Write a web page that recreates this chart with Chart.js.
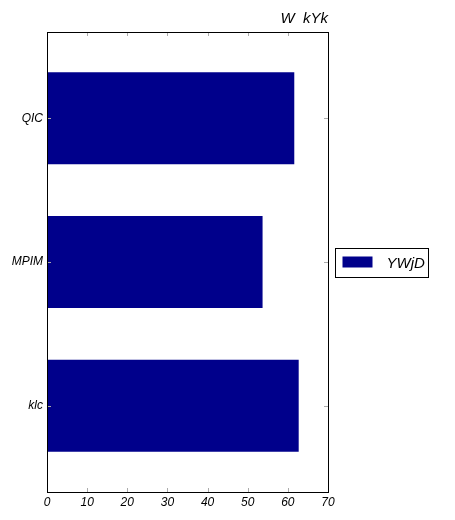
<!DOCTYPE html>
<html>
<head>
<meta charset="utf-8">
<script src="https://cdn.jsdelivr.net/npm/chart.js@4/dist/chart.umd.min.js"></script>
<style>
html,body{margin:0;padding:0;background:#fff;}
#wrap{width:455px;height:520px;position:relative;}
</style>
</head>
<body>
<div id="wrap"><canvas id="c" width="455" height="520"></canvas></div>
<script>
const categories = ['klc', 'MPIM', 'QIC'];
const values = [62.7, 53.7, 61.6];
const seriesName = 'YWjD';
const titleText = 'W  kYk';
const xTicks = [0, 10, 20, 30, 40, 50, 60, 70];

const FONT = '"Liberation Sans", Arial, sans-serif';

const decor = {
  id: 'decor',
  afterDraw(chart) {
    const ctx = chart.ctx;
    const ca = chart.chartArea;
    const xs = chart.scales.x, ys = chart.scales.y;
    ctx.save();
    ctx.strokeStyle = '#aaa';
    ctx.lineWidth = 1;
    const L = 4;
    xTicks.forEach(v => {
      const px = Math.round(xs.getPixelForValue(v)) + 0.5;
      ctx.beginPath();
      ctx.moveTo(px, ca.bottom); ctx.lineTo(px, ca.bottom - L);
      ctx.moveTo(px, ca.top); ctx.lineTo(px, ca.top + L);
      ctx.stroke();
    });
    categories.forEach((c, i) => {
      const py = Math.round(ys.getPixelForValue(i)) + 0.5;
      ctx.beginPath();
      ctx.moveTo(ca.left, py); ctx.lineTo(ca.left + L, py);
      ctx.moveTo(ca.right, py); ctx.lineTo(ca.right - L, py);
      ctx.stroke();
    });
    ctx.strokeStyle = '#000';
    ctx.strokeRect(Math.round(ca.left) + 0.5, Math.round(ca.top) + 0.5,
                   Math.round(ca.right - ca.left), Math.round(ca.bottom - ca.top));
    ctx.fillStyle = '#000';
    ctx.font = 'italic 15px ' + FONT;
    ctx.textAlign = 'right';
    ctx.textBaseline = 'alphabetic';
    ctx.fillText(titleText, ca.right, 23);
    const ds = chart.data.datasets[0];
    const bx = Math.round(ca.right) + 7.5, bw = 93, bh = 29;
    const by = Math.round((ca.top + ca.bottom) / 2 - bh / 2) + 0.5;
    ctx.fillStyle = '#fff';
    ctx.fillRect(bx, by, bw, bh);
    ctx.strokeStyle = '#000';
    ctx.strokeRect(bx, by, bw, bh);
    ctx.fillStyle = ds.backgroundColor;
    ctx.fillRect(bx + 7, by + 8, 30, 11);
    ctx.fillStyle = '#000';
    ctx.font = 'italic 15px ' + FONT;
    ctx.textAlign = 'left';
    ctx.textBaseline = 'middle';
    ctx.fillText(ds.label, bx + 51, by + bh / 2 + 1);
    ctx.restore();
  }
};

new Chart(document.getElementById('c'), {
  type: 'bar',
  data: {
    datasets: [{
      label: seriesName,
      data: values.map((v, i) => ({ x: v, y: i })),
      backgroundColor: '#00008B',
      borderWidth: 0,
      barPercentage: 0.64,
      categoryPercentage: 1.0
    }]
  },
  options: {
    indexAxis: 'y',
    responsive: false,
    animation: false,
    layout: { padding: { top: 32, right: 127, left: 0, bottom: 0 } },
    plugins: { legend: { display: false }, tooltip: { enabled: false }, title: { display: false } },
    scales: {
      x: {
        type: 'linear',
        min: 0, max: 70,
        grid: { display: false, drawTicks: false },
        border: { display: false },
        afterBuildTicks: s => { s.ticks = xTicks.map(v => ({ value: v })); },
        afterFit: s => { s.height = 28; },
        ticks: {
          color: '#000',
          padding: 3,
          maxRotation: 0,
          font: { family: FONT, size: 12, style: 'italic' }
        }
      },
      y: {
        type: 'linear',
        offset: false,
        min: -0.6, max: 2.6,
        grid: { display: false, drawTicks: false, offset: false },
        border: { display: false },
        afterBuildTicks: s => { s.ticks = categories.map((c, i) => ({ value: i })); },
        afterFit: s => { s.width = 47; },
        ticks: {
          color: '#000',
          padding: 4,
          callback: v => categories[v],
          font: { family: FONT, size: 12, style: 'italic' }
        }
      }
    }
  },
  plugins: [decor]
});
</script>
</body>
</html>
